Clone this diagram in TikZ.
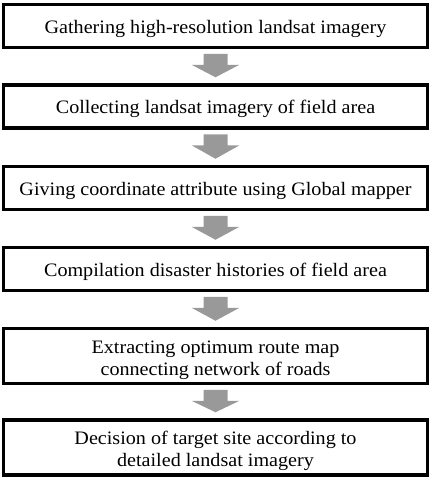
\documentclass[tikz,border=0pt]{standalone}
\usepackage{fontspec}
\setmainfont{Liberation Serif}[FakeStretch=1.06]
\usetikzlibrary{calc}
\definecolor{arrowgray}{HTML}{999999}
\tikzset{
  x=1pt, y=-1pt,
  stepbox/.style={draw=black, line width=3.5pt, minimum width=424pt, inner sep=0pt},
  onebox/.style={stepbox, minimum height=43pt},
  twobox/.style={stepbox, minimum height=55pt},
  steptext/.style={inner sep=0pt, align=center, font=\fontsize{19}{22.5}\selectfont},
  blockarr/.style={fill=arrowgray, draw=none}
}
\newcommand\downarrowbetween[2]{%
  \fill[blockarr] ($(#1.south)+(-12,4.5)$) -- ($(#1.south)+(12,4.5)$) --
    ($(#1.south)+(12,15.5)$) -- ($(#1.south)+(24,15.5)$) --
    ($(#2.north)+(0,-6)$) --
    ($(#1.south)+(-24,15.5)$) -- ($(#1.south)+(-12,15.5)$) -- cycle;}
\begin{document}
\begin{tikzpicture}
\useasboundingbox (0,0) rectangle (431,480);
\node[onebox] (b1) at (215.5,26) {};
\node[onebox] (b2) at (215.5,106.5) {};
\node[onebox] (b3) at (215.5,188) {};
\node[onebox] (b4) at (215.5,269) {};
\node[twobox] (b5) at (215.5,356) {};
\node[twobox] (b6) at (215.5,447.5) {};
\node[steptext, anchor=base] (t1) at (215.5,33) {Gathering high-resolution landsat imagery};
\node[steptext, anchor=base] (t2) at (215.5,113.5) {Collecting landsat imagery of field area};
\node[steptext, anchor=base] (t3) at (215.5,195) {Giving coordinate attribute using Global mapper};
\node[steptext, anchor=base] (t4) at (215.5,276.5) {Compilation disaster histories of field area};
\node[steptext] (t5) at (215.5,360.5) {Extracting optimum route map\\connecting network of roads};
\node[steptext] (t6) at (215.5,450.8) {Decision of target site according to\\detailed landsat imagery};
\downarrowbetween{b1}{b2}
\downarrowbetween{b2}{b3}
\downarrowbetween{b3}{b4}
\downarrowbetween{b4}{b5}
\downarrowbetween{b5}{b6}
\end{tikzpicture}
\end{document}
